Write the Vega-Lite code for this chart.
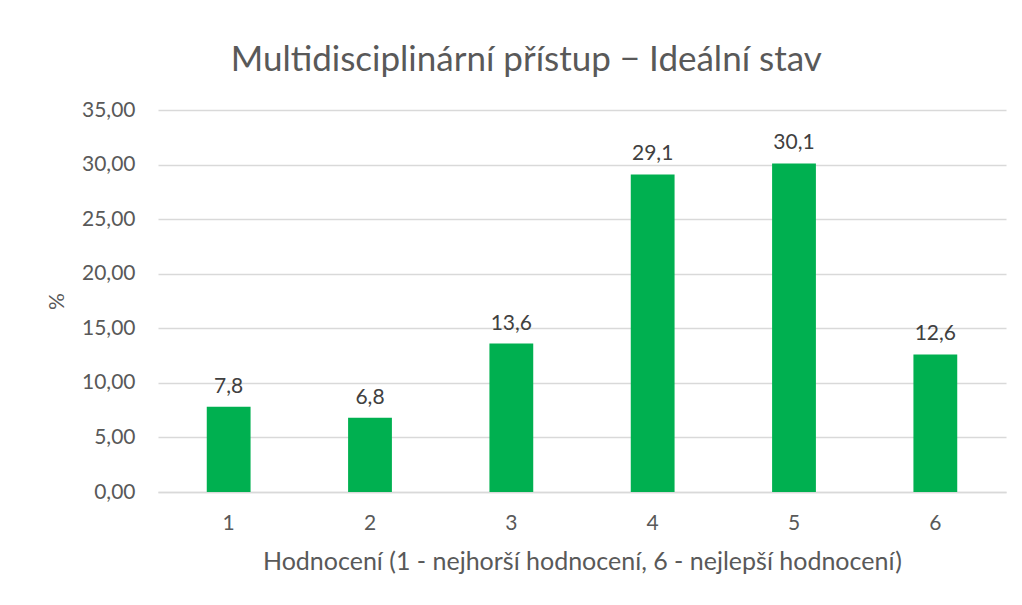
{
  "$schema": "https://vega.github.io/schema/vega-lite/v6.json",
  "width": 848,
  "height": 382,
  "padding": {"left": 46, "top": 43, "right": 16, "bottom": 10},
  "background": "white",
  "config": {
    "locale": {"number": {"decimal": ",", "thousands": " ", "grouping": [3], "currency": ["", " Kč"]}},
    "font": "Lato",
    "view": {"stroke": null}
  },
  "title": {
    "text": "Multidisciplinární přístup − Ideální stav",
    "fontSize": 35,
    "fontWeight": "normal",
    "color": "#595959",
    "font": "Lato",
    "anchor": "middle",
    "frame": "bounds",
    "offset": 21
  },
  "data": {
    "values": [
      {"hodnoceni": "1", "pct": 7.8},
      {"hodnoceni": "2", "pct": 6.8},
      {"hodnoceni": "3", "pct": 13.6},
      {"hodnoceni": "4", "pct": 29.1},
      {"hodnoceni": "5", "pct": 30.1},
      {"hodnoceni": "6", "pct": 12.6}
    ]
  },
  "encoding": {
    "x": {
      "field": "hodnoceni",
      "type": "ordinal",
      "scale": {"paddingInner": 0.69, "paddingOuter": 0.345},
      "axis": {
        "title": "Hodnocení (1 - nejhorší hodnocení, 6 - nejlepší hodnocení)",
        "titleFontSize": 25,
        "titleFontWeight": "normal",
        "titleColor": "#595959",
        "titlePadding": 16,
        "labelAngle": 0,
        "labelFontSize": 21,
        "labelColor": "#595959",
        "labelPadding": 20,
        "ticks": false,
        "domainColor": "#d9d9d9",
        "domainWidth": 1.5
      }
    },
    "y": {
      "field": "pct",
      "type": "quantitative",
      "scale": {"domain": [0, 35]},
      "axis": {
        "title": "%",
        "titleFontSize": 21,
        "titleFontWeight": "normal",
        "titleColor": "#595959",
        "titlePadding": 14,
        "values": [0, 5, 10, 15, 20, 25, 30, 35],
        "format": ".2f",
        "labelFontSize": 21,
        "labelColor": "#595959",
        "labelPadding": 23,
        "ticks": false,
        "domain": false,
        "gridColor": "#d9d9d9",
        "gridWidth": 1.5
      }
    }
  },
  "layer": [
    {"mark": {"type": "bar", "color": "#00b050"}},
    {
      "mark": {"type": "text", "baseline": "bottom", "dy": -10, "fontSize": 21, "color": "#404040", "font": "Lato"},
      "encoding": {"text": {"field": "pct", "type": "quantitative", "format": ".1f"}}
    }
  ]
}
